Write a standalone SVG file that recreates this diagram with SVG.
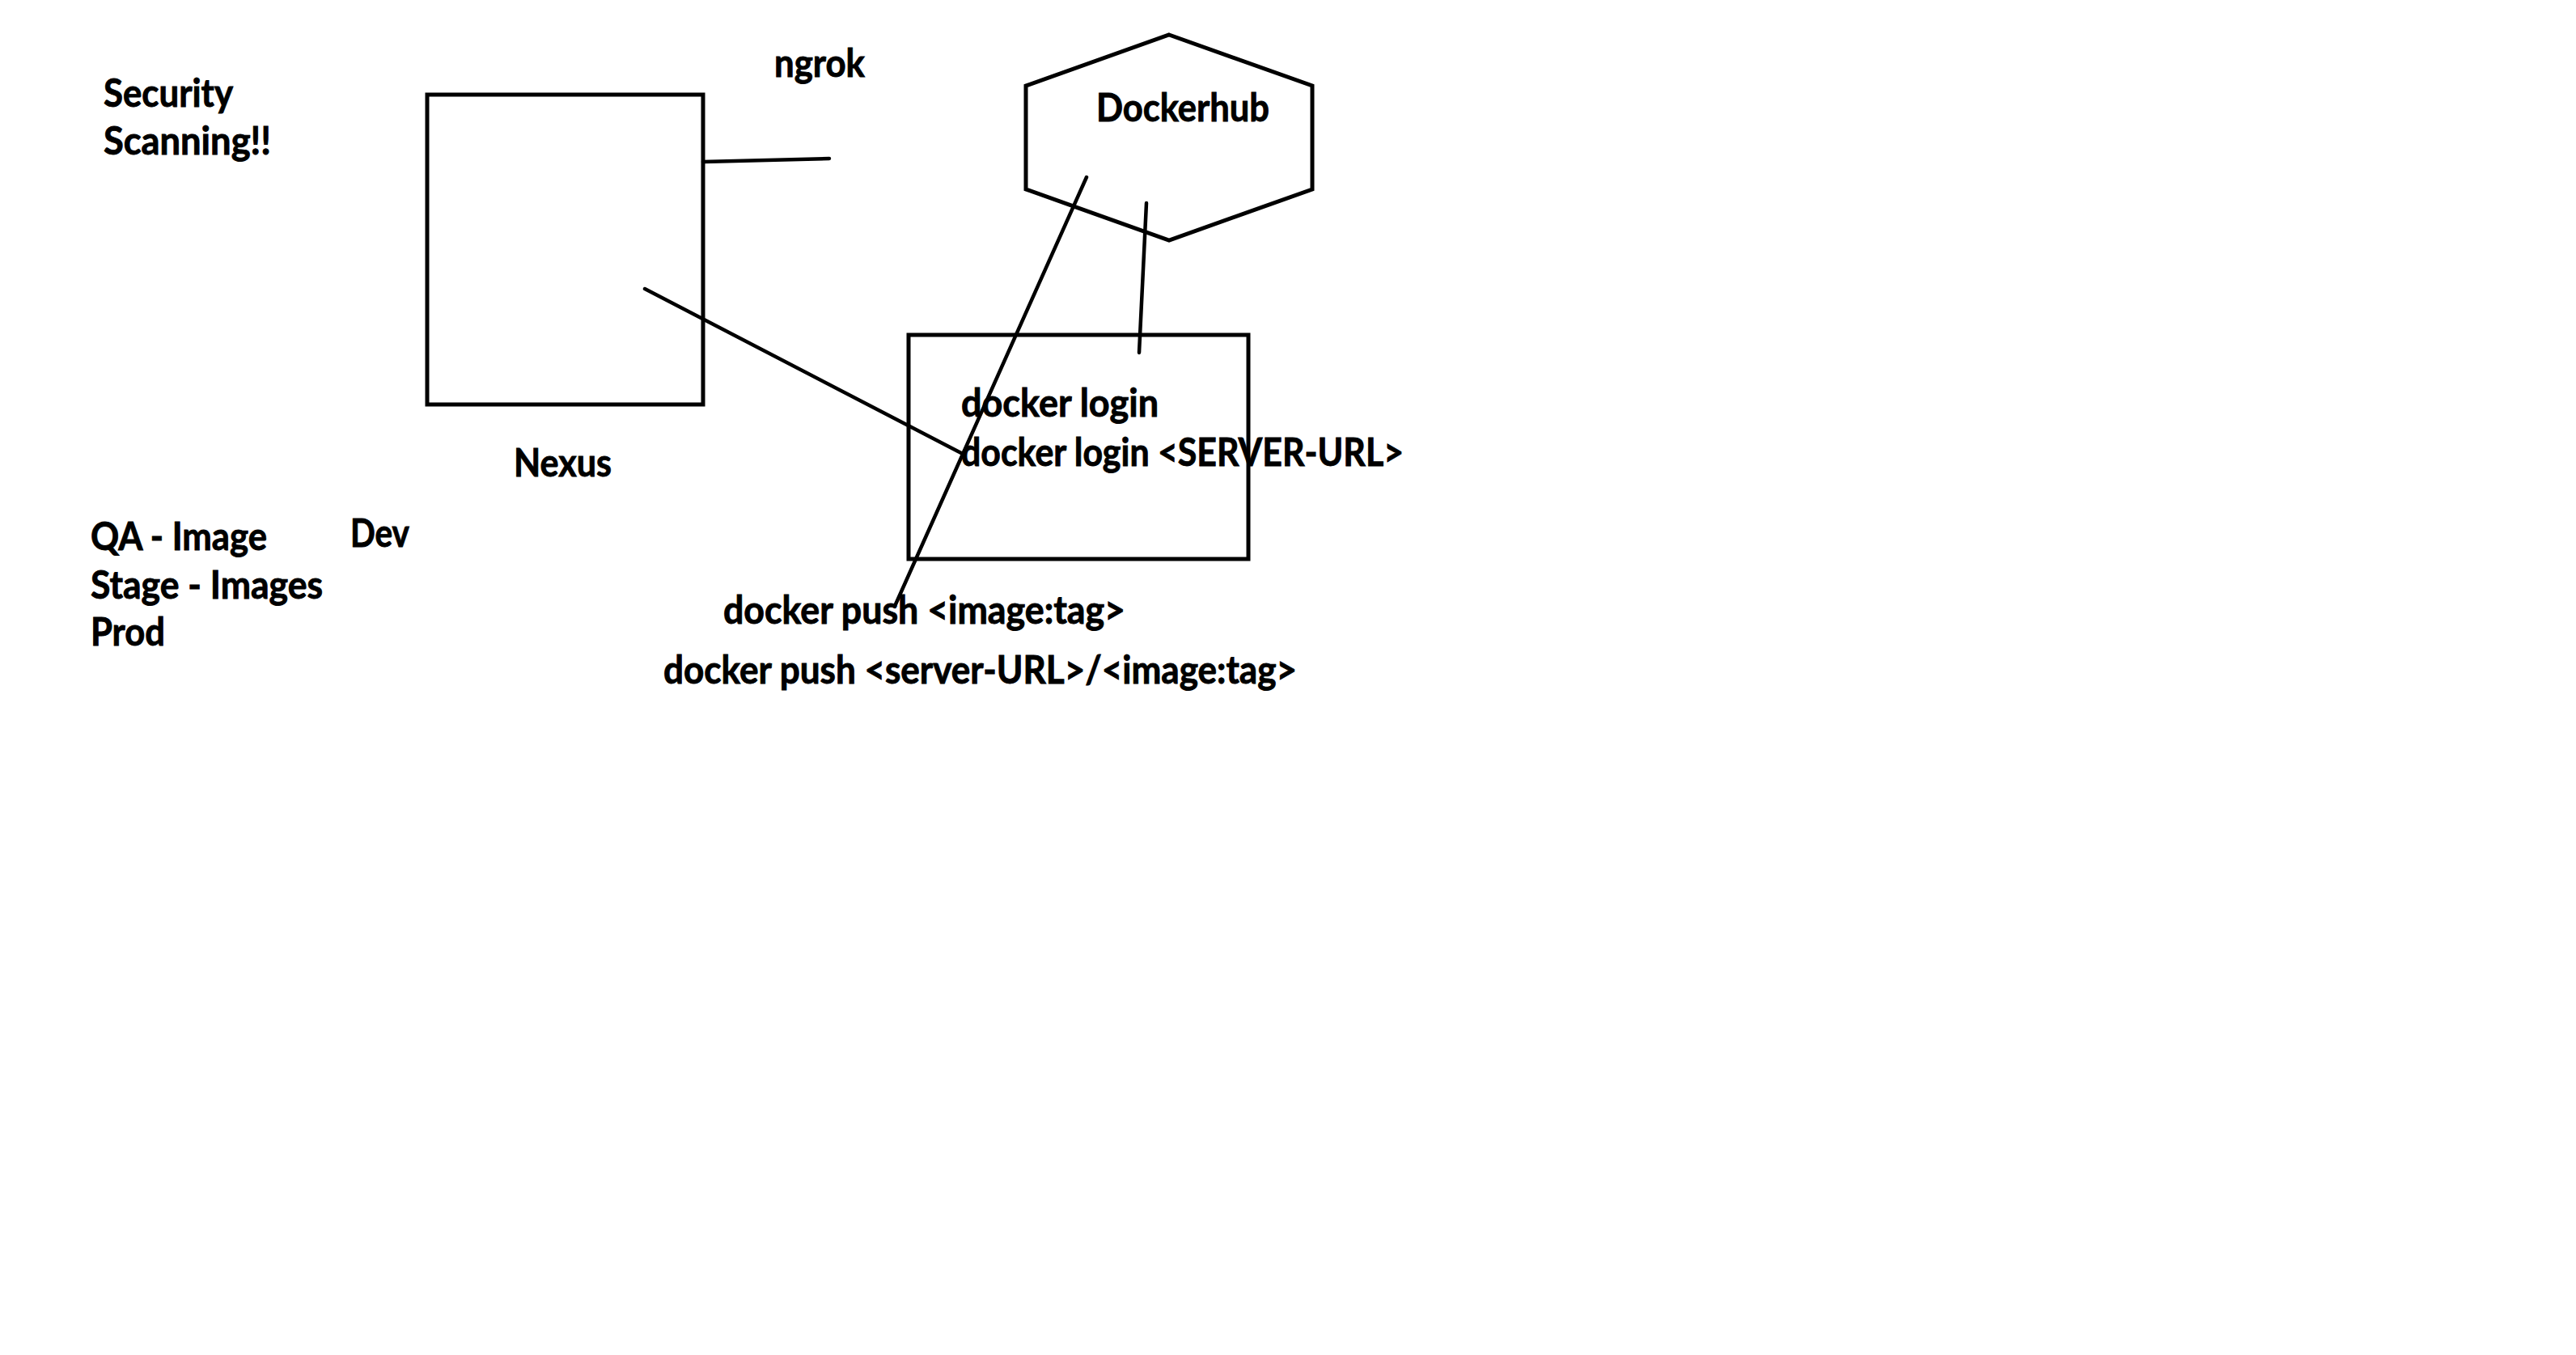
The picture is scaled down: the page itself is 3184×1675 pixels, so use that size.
<svg xmlns="http://www.w3.org/2000/svg" width="3184" height="1675" viewBox="0 0 3184 1675">
<style>
text{font-family:Lato,"Liberation Sans",sans-serif;font-weight:bold;font-size:48px;fill:#000;stroke:#000;stroke-width:0.9px}
.shape{fill:none;stroke:#000;stroke-width:5}
.conn{fill:none;stroke:#000;stroke-width:4.5;stroke-linecap:round}
</style>
<rect x="0" y="0" width="3184" height="1675" fill="#fff"/>
<g id="security-note">
<text x="128" y="132" textLength="160" lengthAdjust="spacingAndGlyphs">Security</text>
<text x="128" y="191" textLength="207" lengthAdjust="spacingAndGlyphs">Scanning!!</text>
</g>
<g id="nexus">
<rect class="shape" x="528" y="117" width="341" height="383"/>
<text x="635" y="589" textLength="121" lengthAdjust="spacingAndGlyphs">Nexus</text>
</g>
<g id="ngrok">
<text x="957" y="95" textLength="112" lengthAdjust="spacingAndGlyphs">ngrok</text>
</g>
<g id="dockerhub">
<polygon class="shape" points="1445,43 1622,106 1622,234 1445,297 1268,234 1268,106"/>
<text x="1355" y="150" textLength="214" lengthAdjust="spacingAndGlyphs">Dockerhub</text>
</g>
<g id="docker-box">
<rect class="shape" x="1123" y="414" width="420" height="277"/>
<text x="1188" y="515" textLength="244" lengthAdjust="spacingAndGlyphs">docker login</text>
<text x="1188" y="576" textLength="547" lengthAdjust="spacingAndGlyphs">docker login &lt;SERVER-URL&gt;</text>
</g>
<g id="push-commands">
<text x="894" y="771" textLength="497" lengthAdjust="spacingAndGlyphs">docker push &lt;image:tag&gt;</text>
<text x="820" y="845" textLength="783" lengthAdjust="spacingAndGlyphs">docker push &lt;server-URL&gt;/&lt;image:tag&gt;</text>
</g>
<g id="environments">
<text x="112" y="680" textLength="218" lengthAdjust="spacingAndGlyphs">QA - Image</text>
<text x="112" y="740" textLength="287" lengthAdjust="spacingAndGlyphs">Stage - Images</text>
<text x="112" y="798" textLength="92" lengthAdjust="spacingAndGlyphs">Prod</text>
<text x="433" y="676" textLength="73" lengthAdjust="spacingAndGlyphs">Dev</text>
</g>
<g id="connectors">
<line class="conn" x1="869" y1="200" x2="1025" y2="196"/>
<line class="conn" x1="797" y1="357" x2="1188" y2="560"/>
<line class="conn" x1="1343" y1="219" x2="1107" y2="747"/>
<line class="conn" x1="1417" y1="251" x2="1408" y2="436"/>
</g>
</svg>
